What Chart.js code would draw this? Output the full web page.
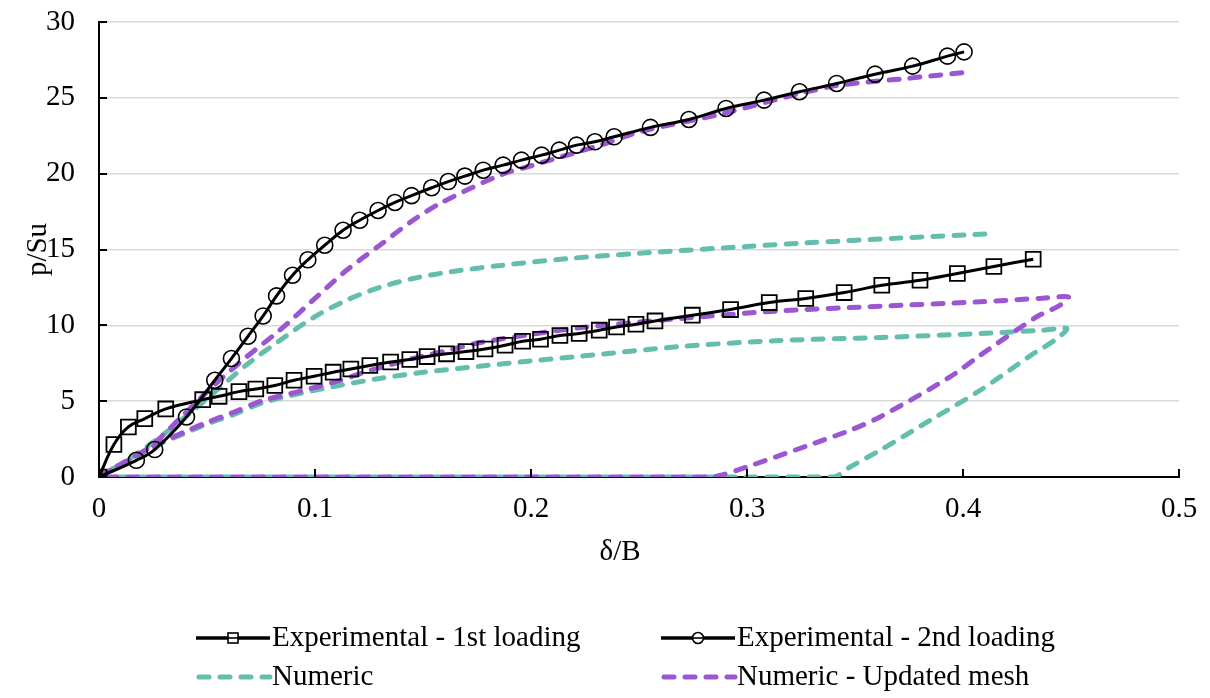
<!DOCTYPE html>
<html>
<head>
<meta charset="utf-8">
<script src="https://cdn.jsdelivr.net/npm/chart.js@4.4.0/dist/chart.umd.min.js"></script>
<style>
  html, body { margin: 0; padding: 0; background: #fff; }
  #wrap { width: 1210px; height: 698px; }
</style>
</head>
<body>
<div id="wrap"><canvas id="chart" width="1210" height="698"></canvas></div>
<script>
// ---- data ----
const xTicks = [0, 0.1, 0.2, 0.3, 0.4, 0.5];
const yTicks = [0, 5, 10, 15, 20, 25, 30];

// Experimental - 1st loading
const exp1X = [0, 0.0069, 0.0136, 0.0212, 0.0309, 0.048, 0.0556, 0.0648, 0.0726, 0.0814, 0.0903, 0.0996, 0.1084, 0.1166, 0.1254, 0.135, 0.1439, 0.1519, 0.1609, 0.1699, 0.1787, 0.188, 0.1961, 0.2044, 0.2134, 0.2223, 0.2316, 0.2396, 0.2486, 0.2574, 0.2747, 0.2924, 0.3103, 0.3272, 0.345, 0.3624, 0.3801, 0.3974, 0.4143, 0.4325];
const exp1Y = [0, 2.14, 3.30, 3.85, 4.49, 5.10, 5.32, 5.63, 5.80, 6.03, 6.38, 6.64, 6.91, 7.12, 7.35, 7.58, 7.75, 7.94, 8.12, 8.27, 8.44, 8.69, 8.95, 9.08, 9.33, 9.46, 9.68, 9.89, 10.07, 10.29, 10.67, 11.04, 11.50, 11.77, 12.16, 12.64, 12.97, 13.42, 13.88, 14.36];

// Experimental - 2nd loading
const exp2X = [0, 0.0173, 0.0258, 0.0405, 0.0536, 0.0613, 0.069, 0.076, 0.0822, 0.0896, 0.0967, 0.1045, 0.113, 0.1207, 0.1292, 0.137, 0.1447, 0.154, 0.1617, 0.1694, 0.1779, 0.1871, 0.1956, 0.2049, 0.2131, 0.2211, 0.2296, 0.2385, 0.2553, 0.2731, 0.2903, 0.3079, 0.3243, 0.3415, 0.3593, 0.3767, 0.3928, 0.4005];
const exp2Y = [0, 1.10, 1.81, 3.96, 6.38, 7.81, 9.28, 10.62, 11.94, 13.30, 14.32, 15.28, 16.27, 16.93, 17.57, 18.10, 18.55, 19.07, 19.48, 19.84, 20.23, 20.56, 20.89, 21.22, 21.55, 21.88, 22.10, 22.43, 23.05, 23.57, 24.30, 24.85, 25.40, 25.95, 26.56, 27.09, 27.75, 28.03];

// Numeric: loading, unloading, zero branch, reloading
const numX = [0, 0.01, 0.02, 0.03, 0.04, 0.05, 0.062, 0.076, 0.093, 0.11, 0.13, 0.15, 0.176, 0.2, 0.223, 0.269, 0.315, 0.362, 0.408, 0.437, 0.448,
              0.4435, 0.434, 0.4326, 0.408, 0.3848, 0.3616, 0.3477, 0.34, 0.3, 0.2, 0.1, 0.005, 0,
              0.012, 0.025, 0.036, 0.0528, 0.0683, 0.0837, 0.0991, 0.1146, 0.13, 0.1454, 0.1624, 0.186, 0.217, 0.25, 0.3, 0.328, 0.37, 0.415];
const numY = [0, 0.82, 1.6, 2.3, 2.9, 3.5, 4.1, 4.9, 5.5, 6.0, 6.5, 6.9, 7.3, 7.65, 7.96, 8.6, 9.0, 9.2, 9.46, 9.68, 9.79,
              9.13, 8.25, 8.14, 5.72, 3.74, 1.76, 0.66, 0, 0, 0, 0, 0, 0,
              1.0, 2.3, 3.5, 5.5, 7.4, 9.0, 10.5, 11.66, 12.5, 13.09, 13.52, 13.95, 14.4, 14.75, 15.2, 15.44, 15.75, 16.05];

// Numeric - Updated mesh
const updX = [0, 0.01, 0.02, 0.03, 0.04, 0.05, 0.062, 0.076, 0.093, 0.11, 0.125, 0.145, 0.16, 0.176, 0.2, 0.223, 0.269, 0.315, 0.362, 0.408, 0.437, 0.4488,
              0.445, 0.434, 0.408, 0.394, 0.3616, 0.3477, 0.3307, 0.2999, 0.2875, 0.283, 0.25, 0.15, 0.05, 0.005, 0,
              0.01, 0.0235, 0.0374, 0.0528, 0.0683, 0.0837, 0.0991, 0.1146, 0.13, 0.1454, 0.1578, 0.1856, 0.201, 0.232, 0.2504, 0.289, 0.3245, 0.343, 0.374, 0.401];
const updY = [0, 0.85, 1.65, 2.35, 3.0, 3.6, 4.25, 5.05, 5.65, 6.3, 7.0, 7.8, 8.3, 8.85, 9.4, 9.85, 10.45, 10.95, 11.26, 11.55, 11.79, 11.87,
              11.33, 10.55, 8.03, 6.6, 3.96, 3.08, 2.2, 0.66, 0.1, 0, 0, 0, 0, 0, 0,
              0.8, 1.98, 3.85, 6.0, 7.92, 9.68, 11.66, 13.63, 15.28, 16.93, 18.03, 19.9, 20.56, 21.88, 22.76, 23.97, 25.29, 25.84, 26.28, 26.68];

const seriesNames = ['Experimental - 1st loading', 'Experimental - 2nd loading', 'Numeric', 'Numeric - Updated mesh'];

const TEAL = '#64bead';
const PURPLE = '#9b56d1';
const FONT = '"Liberation Serif", "Times New Roman", serif';
const FONT_SIZE = 29;
const DASH = [10, 11];

function pairs(xs, ys) {
    return xs.map((x, i) => ({ x: x, y: ys[i] }));
}

// inward tick marks, x title and the legend
const decor = {
    id: 'decor',
    afterDraw(chart) {
        const { ctx, chartArea, scales } = chart;
        ctx.save();
        ctx.strokeStyle = '#000';
        ctx.lineWidth = 2;
        ctx.beginPath();
        scales.y.ticks.forEach(t => {
            const py = Math.round(scales.y.getPixelForValue(t.value));
            ctx.moveTo(chartArea.left, py);
            ctx.lineTo(chartArea.left + 8, py);
        });
        scales.x.ticks.forEach(t => {
            const px = Math.round(scales.x.getPixelForValue(t.value));
            ctx.moveTo(px, chartArea.bottom);
            ctx.lineTo(px, chartArea.bottom - 8);
        });
        ctx.stroke();

        ctx.fillStyle = '#000';
        ctx.font = FONT_SIZE + 'px ' + FONT;
        ctx.textAlign = 'center';
        ctx.textBaseline = 'middle';
        ctx.fillText('δ/B', 620, 552);

        // legend
        const items = [
            { i: 0, x: 196, y: 638 },
            { i: 1, x: 661, y: 638 },
            { i: 2, x: 196, y: 677 },
            { i: 3, x: 661, y: 677 }
        ];
        items.forEach(it => {
            const ds = chart.data.datasets[it.i];
            ctx.save();
            ctx.strokeStyle = ds.borderColor;
            ctx.lineWidth = ds.borderDash ? ds.borderWidth : 3.5;
            ctx.lineCap = ds.borderDash ? 'round' : 'butt';
            ctx.setLineDash(ds.borderDash || []);
            ctx.beginPath();
            ctx.moveTo(it.x + (ds.borderDash ? 3 : 0), it.y);
            ctx.lineTo(it.x + 74, it.y);
            ctx.stroke();
            ctx.setLineDash([]);
            ctx.lineWidth = 1.6;
            ctx.strokeStyle = '#000';
            ctx.fillStyle = '#fff';
            const cx = it.x + 37;
            if (ds.pointStyle === 'rect') {
                ctx.fillRect(cx - 5, it.y - 5, 10, 10);
                ctx.strokeRect(cx - 5, it.y - 5, 10, 10);
                ctx.beginPath(); ctx.moveTo(cx - 5, it.y); ctx.lineTo(cx + 5, it.y); ctx.stroke();
            } else if (ds.pointStyle === 'circle') {
                ctx.beginPath(); ctx.arc(cx, it.y, 5.5, 0, Math.PI * 2); ctx.fill(); ctx.stroke();
                ctx.beginPath(); ctx.moveTo(cx - 5.5, it.y); ctx.lineTo(cx + 5.5, it.y); ctx.stroke();
            }
            ctx.restore();
            ctx.fillStyle = '#000';
            ctx.textAlign = 'left';
            ctx.fillText(seriesNames[it.i], it.x + 76, it.y);
        });
        ctx.restore();
    }
};

new Chart(document.getElementById('chart'), {
    type: 'scatter',
    data: {
        datasets: [
            {
                label: seriesNames[0],
                data: pairs(exp1X, exp1Y),
                showLine: true,
                borderColor: '#000',
                borderWidth: 3,
                tension: 0.4,
                pointStyle: 'rect',
                pointRadius: 10.5,
                pointBorderWidth: 1.8,
                pointBorderColor: '#000',
                pointBackgroundColor: 'rgba(0,0,0,0)',
                order: 0
            },
            {
                label: seriesNames[1],
                data: pairs(exp2X, exp2Y),
                showLine: true,
                borderColor: '#000',
                borderWidth: 3,
                tension: 0.4,
                pointStyle: 'circle',
                pointRadius: ctx => ctx.dataIndex === 0 ? 0 : 8,
                pointBorderWidth: 1.6,
                pointBorderColor: '#000',
                pointBackgroundColor: 'rgba(0,0,0,0)',
                order: 1
            },
            {
                label: seriesNames[2],
                data: pairs(numX, numY),
                showLine: true,
                borderColor: TEAL,
                borderWidth: 5,
                borderDash: DASH,
                borderCapStyle: 'round',
                tension: 0.3,
                pointRadius: 0,
                order: 3
            },
            {
                label: seriesNames[3],
                data: pairs(updX, updY),
                showLine: true,
                borderColor: PURPLE,
                borderWidth: 5,
                borderDash: DASH,
                borderCapStyle: 'round',
                tension: 0.3,
                pointRadius: 0,
                order: 2
            }
        ]
    },
    options: {
        responsive: false,
        animation: false,
        events: [],
        layout: { padding: { top: 22, right: 31, bottom: 0, left: 0 } },
        plugins: {
            legend: { display: false },
            tooltip: { enabled: false }
        },
        scales: {
            x: {
                type: 'linear',
                min: 0,
                max: 0.5,
                afterBuildTicks: s => { s.ticks = xTicks.map(v => ({ value: v })); },
                afterFit: s => { s.height = 221; s.paddingLeft = 0; s.paddingRight = 0; },
                grid: { display: false, drawTicks: false },
                border: { display: true, color: '#000', width: 2 },
                ticks: { color: '#000', padding: 15, font: { family: FONT, size: FONT_SIZE } }
            },
            y: {
                min: 0,
                max: 30,
                afterBuildTicks: s => { s.ticks = yTicks.map(v => ({ value: v })); },
                afterFit: s => { s.width = 99; s.paddingTop = 0; s.paddingBottom = 0; },
                grid: {
                    drawTicks: false,
                    lineWidth: 1.5,
                    color: c => c.tick && c.tick.value === 0 ? 'rgba(0,0,0,0)' : '#d9d9d9'
                },
                border: { display: true, color: '#000', width: 2 },
                ticks: { color: '#000', padding: 24, font: { family: FONT, size: FONT_SIZE } },
                title: {
                    display: true,
                    text: 'p/Su',
                    color: '#000',
                    padding: { top: 21, bottom: 0 },
                    font: { family: FONT, size: FONT_SIZE }
                }
            }
        }
    },
    plugins: [decor]
});
</script>
</body>
</html>
